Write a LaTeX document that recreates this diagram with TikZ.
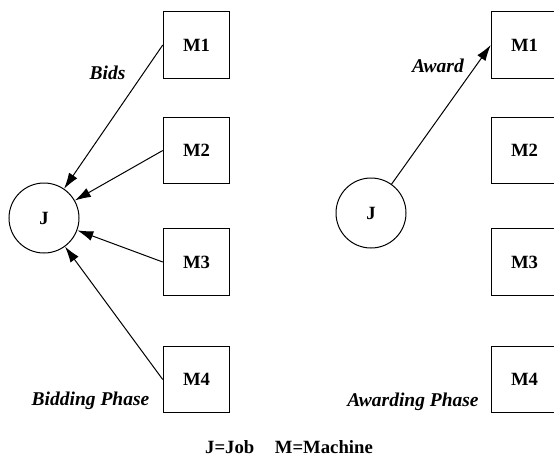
\documentclass[tikz,border=0pt]{standalone}
\usepackage{fontspec}
\setmainfont{Liberation Serif}
\usetikzlibrary{arrows.meta}
\begin{document}
\begin{tikzpicture}[x=1pt,y=-1pt,
  mbox/.style={draw,line width=1pt,minimum size=66.5pt,inner sep=0pt,font=\fontsize{18.7}{20}\selectfont\bfseries},
  job/.style={draw,circle,line width=1pt,minimum size=70pt,inner sep=0pt,font=\fontsize{18.7}{20}\selectfont\bfseries},
  lbl/.style={anchor=base,inner sep=0pt,font=\fontsize{19.5}{21}\selectfont\bfseries\itshape},
  conn/.style={line width=1pt,-{Latex[length=16pt,width=10pt]}}]
\useasboundingbox (0,0) rectangle (554,459);
\begin{scope}
\clip (0,0) rectangle (554,459);
% left (bidding)
\node[job] (J) at (44,218) {J};
\node[mbox] (M1) at (196.5,45) {M1};
\node[mbox] (M2) at (196.5,150.5) {M2};
\node[mbox] (M3) at (196.5,262) {M3};
\node[mbox] (M4) at (196.5,379.5) {M4};
\draw[conn] (M1.west) -- (J);
\draw[conn] (M2.west) -- (J);
\draw[conn] (M3.west) -- (J);
\draw[conn] (M4.west) -- (J);
\node[lbl] (bids) at (107.5,79) {Bids};
\node[lbl] (bp) at (90.5,405) {Bidding Phase};
% right (awarding)
\node[job] (RJ) at (371,213) {J};
\node[mbox] (RM1) at (524.5,45) {M1};
\node[mbox] (RM2) at (524.5,150.5) {M2};
\node[mbox] (RM3) at (524.5,262) {M3};
\node[mbox] (RM4) at (524.5,379.5) {M4};
\draw[conn] (RJ) -- (RM1.west);
\node[lbl] (award) at (438,72.5) {Award};
\node[lbl] (ap) at (413,406) {Awarding Phase};
% legend
\node[anchor=base,inner sep=0pt,font=\fontsize{18.7}{20}\selectfont\bfseries] (legend) at (289,453.5) {J=Job\hspace{1.1em}M=Machine};
\end{scope}
\end{tikzpicture}
\end{document}
